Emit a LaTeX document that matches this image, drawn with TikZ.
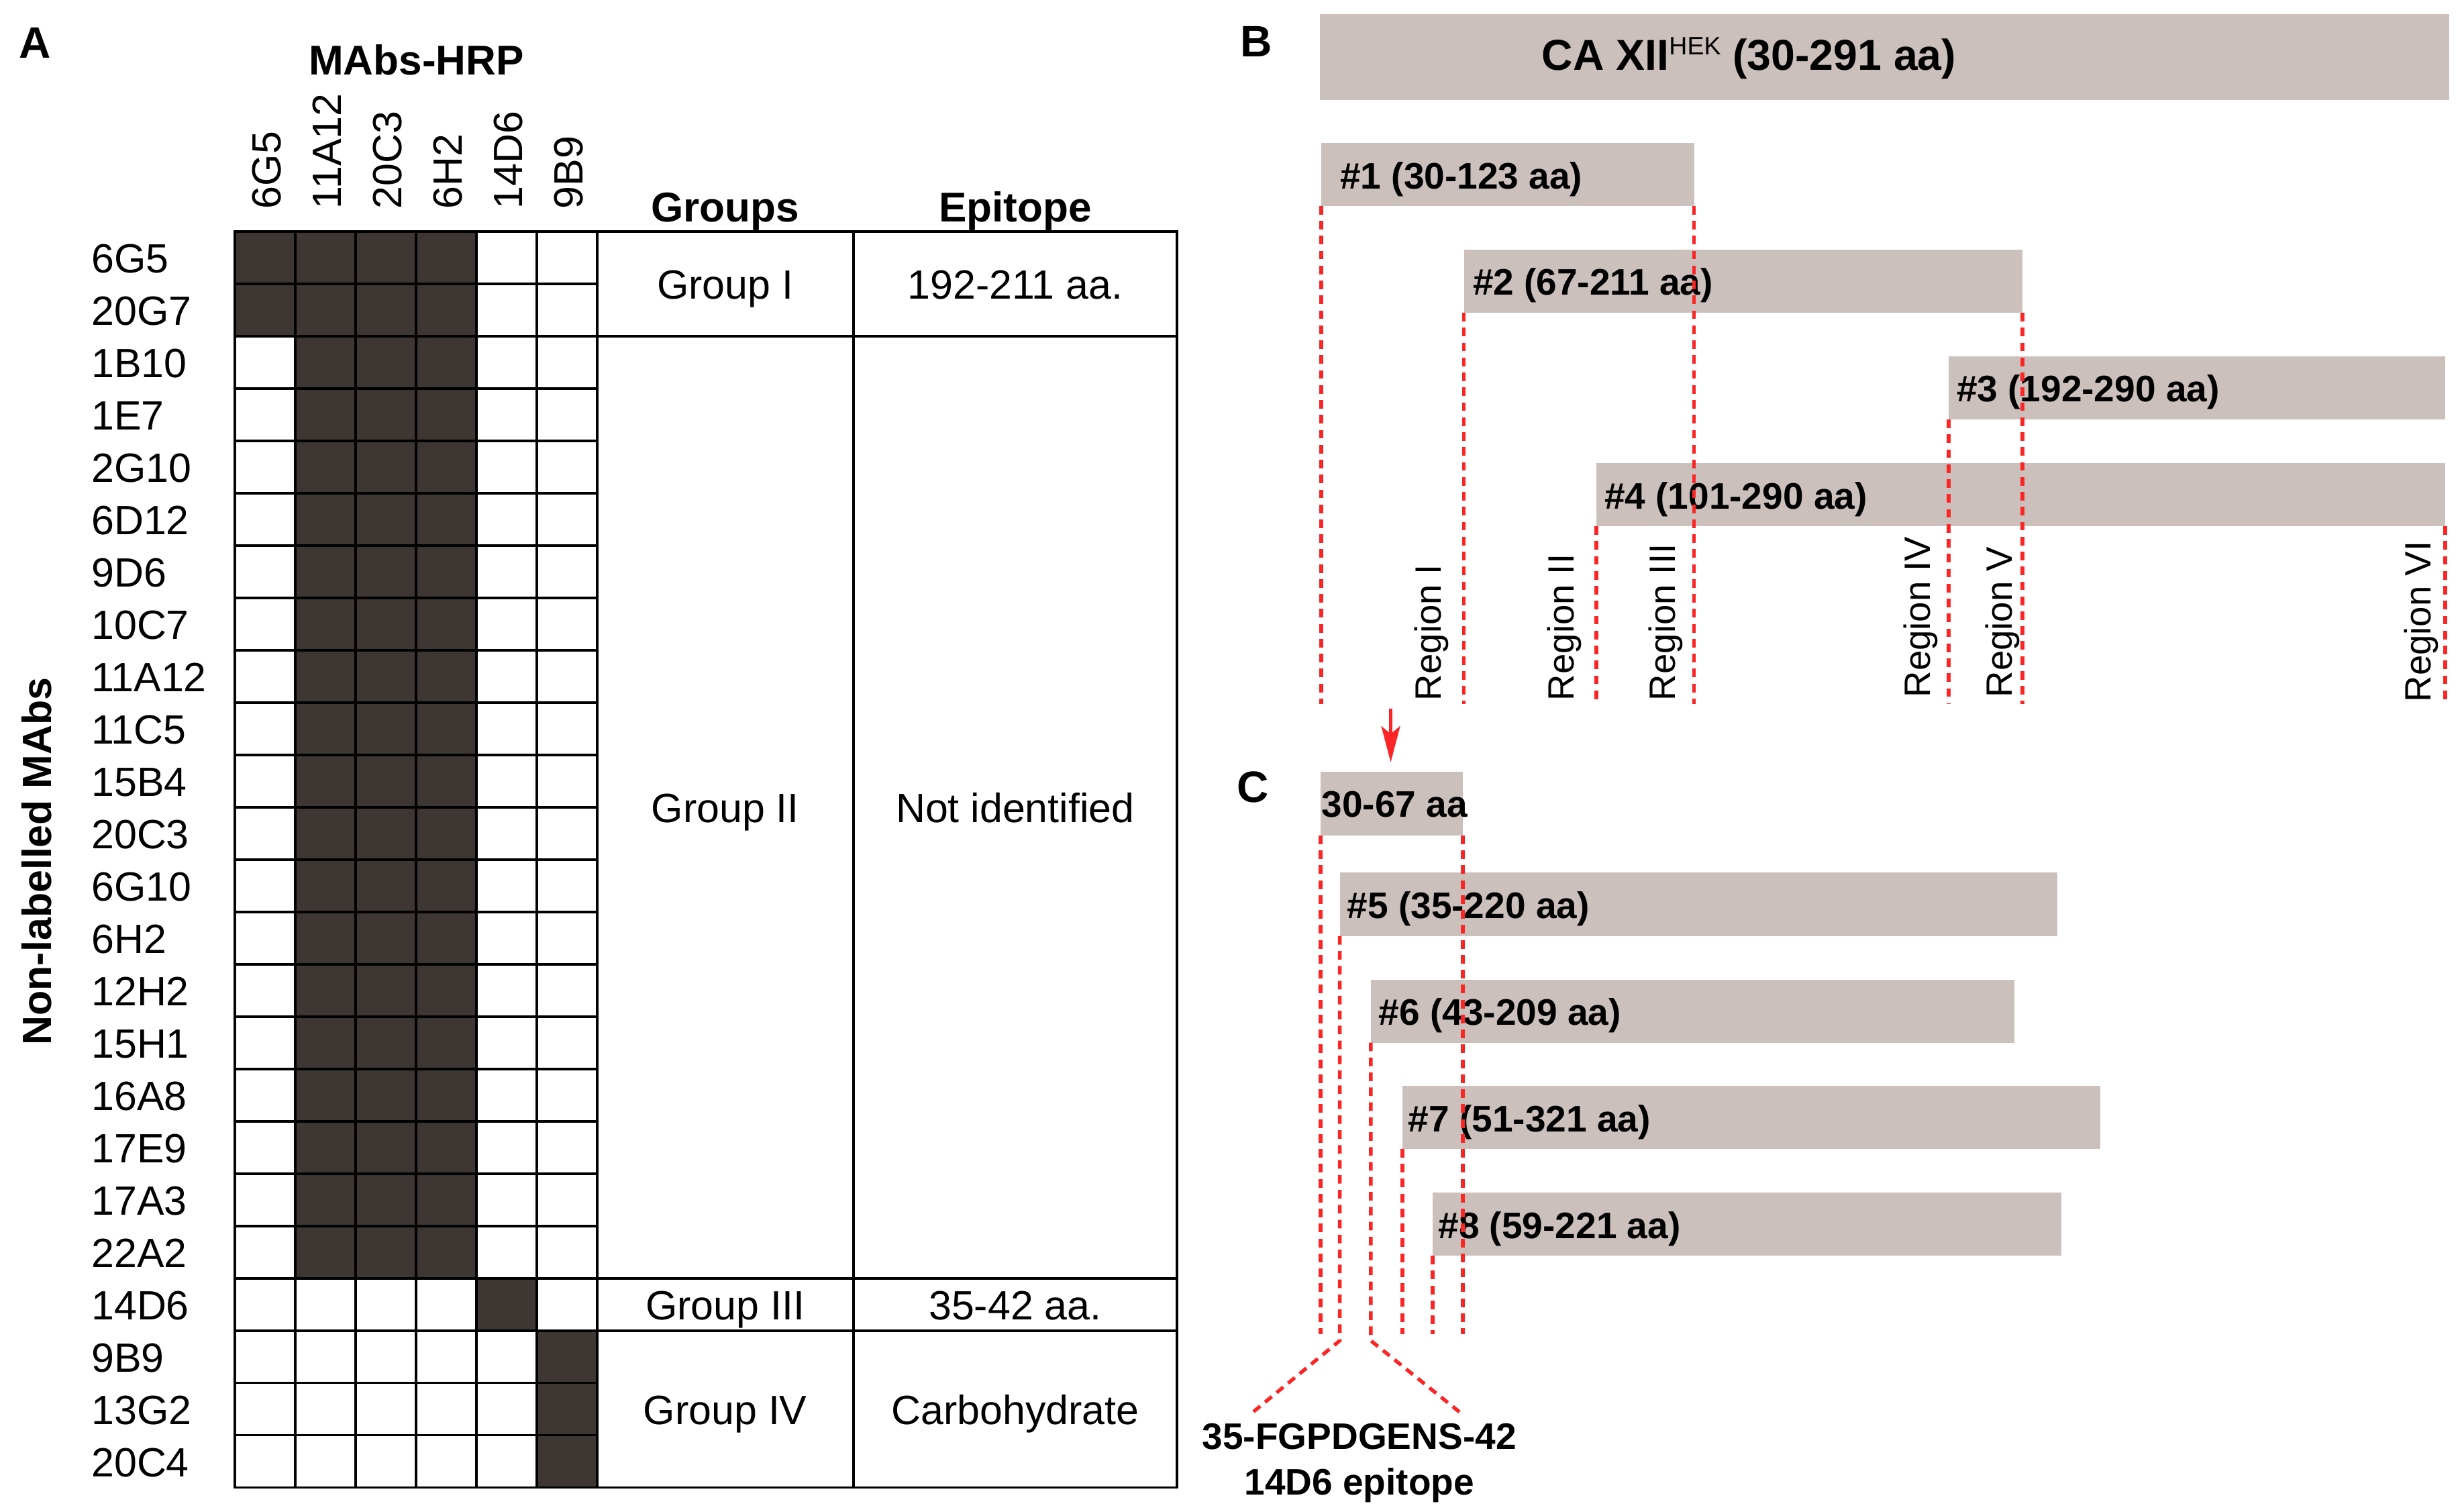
\documentclass[tikz,border=0pt]{standalone}
\usepackage{fontspec}
\setmainfont{Liberation Sans}
\usetikzlibrary{arrows.meta}

\definecolor{cellfill}{RGB}{62,54,50}
\definecolor{barfill}{RGB}{203,192,187}
\definecolor{cutred}{RGB}{250,38,38}

\tikzset{
  gridline/.style={line width=1.6pt, line cap=rect},
  cutline/.style={cutred, line width=2.3pt, dash pattern=on 5.5pt off 4pt},
  bar/.style={fill=barfill, inner sep=0pt, outer sep=0pt, anchor=north west},
  plain/.style={inner sep=0pt, font=\fontsize{26}{31}\selectfont},
  head/.style={inner sep=0pt, anchor=base, font=\fontsize{26.5}{31}\selectfont\bfseries},
  panel/.style={inner sep=0pt, anchor=base west, font=\fontsize{28}{33}\selectfont\bfseries},
  barlabel/.style={inner sep=0pt, anchor=base west, font=\fontsize{23.5}{28}\selectfont\bfseries},
  region/.style={inner sep=0pt, rotate=90, anchor=base west, font=\fontsize{23.3}{28}\selectfont},
}

\begin{document}
\begin{tikzpicture}[x=1pt,y=-1pt]
\useasboundingbox (0,0) rectangle (1568,962);

% ---------- A: competition table
\node[panel] (pA) at (12,36.8) {A};
\node[head] (mabs) at (265,47.4) {MAbs-HRP};
\node[head] (grp) at (461.5,141.3) {Groups};
\node[head] (epi) at (646,141.3) {Epitope};
\node[inner sep=0pt, rotate=90, anchor=base, font=\fontsize{26}{31}\selectfont\bfseries] (nonlab) at (32.5,548) {Non-labelled MAbs};

\foreach \lab [count=\i from 0] in {6G5,11A12,20C3,6H2,14D6,9B9}
  \node[plain, rotate=90, anchor=base west] (col\i) at ({178.7+38.42*\i},133) {\lab};

\foreach \lab [count=\i from 0] in {6G5,20G7,1B10,1E7,2G10,6D12,9D6,10C7,11A12,11C5,15B4,20C3,6G10,6H2,12H2,15H1,16A8,17E9,17A3,22A2,14D6,9B9,13G2,20C4}
  \node[plain, anchor=base west] (row\i) at (58,{173.75+33.3*\i}) {\lab};

% dark cells
\fill[cellfill] (149.5,147.3) rectangle (303.2,213.9);
\fill[cellfill] (187.9,213.9) rectangle (303.2,813.3);
\fill[cellfill] (303.2,813.3) rectangle (341.6,846.6);
\fill[cellfill] (341.6,846.6) rectangle (380,946.5);

% grid
\foreach \j in {0,...,24}
  \draw[gridline] (149.5,{147.3+33.3*\j}) -- (380,{147.3+33.3*\j});
\foreach \j in {0,2,20,21,24}
  \draw[gridline] (380,{147.3+33.3*\j}) -- (749,{147.3+33.3*\j});
\foreach \x in {149.5,187.9,226.3,264.8,303.2,341.6,380,543,749}
  \draw[gridline] (\x,147.3) -- (\x,946.5);

\node[plain, anchor=base] (g1) at (461.5,190.4) {Group I};
\node[plain, anchor=base] (e1) at (646,190.4) {192-211 aa.};
\node[plain, anchor=base] (g2) at (461.5,523.4) {Group II};
\node[plain, anchor=base] (e2) at (646,523.4) {Not identified};
\node[plain, anchor=base] (g3) at (461.5,839.8) {Group III};
\node[plain, anchor=base] (e3) at (646,839.8) {35-42 aa.};
\node[plain, anchor=base] (g4) at (461.5,906.4) {Group IV};
\node[plain, anchor=base] (e4) at (646,906.4) {Carbohydrate};

% ---------- B: deletion fragments
\node[panel] (pB) at (789,36) {B};
\node[bar, minimum width=718.5pt, minimum height=54.5pt] (full) at (840,9.1) {};
\node[inner sep=0pt, anchor=base west, font=\fontsize{27.5}{32}\selectfont\bfseries] (ttl) at (981,44.7) {CA XII\raisebox{9.9pt}{\fontsize{16}{16}\selectfont\mdseries HEK} (30-291 aa)};

\node[bar, minimum width=237.3pt, minimum height=40pt] (b1) at (840.7,91) {};
\node[bar, minimum width=355.4pt, minimum height=40.3pt] (b2) at (931.6,158.7) {};
\node[bar, minimum width=316pt, minimum height=40.3pt] (b3) at (1240,226.6) {};
\node[bar, minimum width=540.2pt, minimum height=40.2pt] (b4) at (1015.8,294.6) {};

\node[barlabel] (t1) at ([xshift=12pt,yshift=-9pt]b1.west) {\#1 (30-123 aa)};
\node[barlabel] (t2) at ([xshift=5.5pt,yshift=-9pt]b2.west) {\#2 (67-211 aa)};
\node[barlabel] (t3) at ([xshift=5pt,yshift=-9pt]b3.west) {\#3 (192-290 aa)};
\node[barlabel] (t4) at ([xshift=5pt,yshift=-9pt]b4.west) {\#4 (101-290 aa)};

\coordinate (lowB) at (0,448);
\draw[cutline] (b1.south west) -- (b1.south west |- lowB);
\draw[cutline] (b1.south east) -- (b1.south east |- lowB);
\draw[cutline] (b2.south west) -- (b2.south west |- lowB);
\draw[cutline] (b2.south east) -- (b2.south east |- lowB);
\draw[cutline] (b3.south west) -- (b3.south west |- lowB);
\draw[cutline] (b4.south west) -- (b4.south west |- lowB);
\draw[cutline] (b4.south east) -- (b4.south east |- lowB);

\node[region] (r1) at (917,446) {Region I};
\node[region] (r2) at (1001.5,446) {Region II};
\node[region] (r3) at (1066,446) {Region III};
\node[region] (r4) at (1228.5,444) {Region IV};
\node[region] (r5) at (1280.5,444) {Region V};
\node[region] (r6) at (1547,447) {Region VI};

\coordinate (arrtop) at (885,451);
\coordinate (arrtip) at (885,485);
\draw[cutred, line width=2pt, -{Stealth[length=23pt,width=12pt,inset=5pt]}] (arrtop) -- (arrtip);

% ---------- C: region I fragments
\node[panel] (pC) at (787,510.5) {C};
\node[bar, minimum width=90.4pt, minimum height=40.6pt] (c0) at (840.4,491) {};
\node[bar, minimum width=456.4pt, minimum height=40.6pt] (b5) at (852.6,555) {};
\node[bar, minimum width=409.7pt, minimum height=40pt] (b6) at (872.3,623.4) {};
\node[bar, minimum width=444pt, minimum height=40pt] (b7) at (892.5,691) {};
\node[bar, minimum width=400.1pt, minimum height=40pt] (b8) at (911.6,759) {};

\node[barlabel] (t0) at ([xshift=0.5pt,yshift=-8.7pt]c0.west) {30-67 aa};
\node[barlabel] (t5) at ([xshift=4.5pt,yshift=-9pt]b5.west) {\#5 (35-220 aa)};
\node[barlabel] (t6) at ([xshift=5pt,yshift=-9pt]b6.west) {\#6 (43-209 aa)};
\node[barlabel] (t7) at ([xshift=3.5pt,yshift=-9pt]b7.west) {\#7 (51-321 aa)};
\node[barlabel] (t8) at ([xshift=3.5pt,yshift=-9pt]b8.west) {\#8 (59-221 aa)};

\coordinate (lowC) at (0,849);
\coordinate (kneeC) at (0,853);
\coordinate (epl) at (795.5,900);
\coordinate (epr) at (929.5,899);
\draw[cutline] (c0.south west) -- (c0.south west |- lowC);
\draw[cutline] (c0.south east) -- (c0.south east |- lowC);
\draw[cutline] (b5.south west) -- (b5.south west |- kneeC) -- (epl);
\draw[cutline] (b6.south west) -- (b6.south west |- kneeC) -- (epr);
\draw[cutline] (b7.south west) -- (b7.south west |- lowC);
\draw[cutline] (b8.south west) -- (b8.south west |- lowC);

\node[barlabel, anchor=base] (ep1) at (865,922.3) {35-FGPDGENS-42};
\node[barlabel, anchor=base] (ep2) at (865,951) {14D6 epitope};

\end{tikzpicture}
\end{document}
